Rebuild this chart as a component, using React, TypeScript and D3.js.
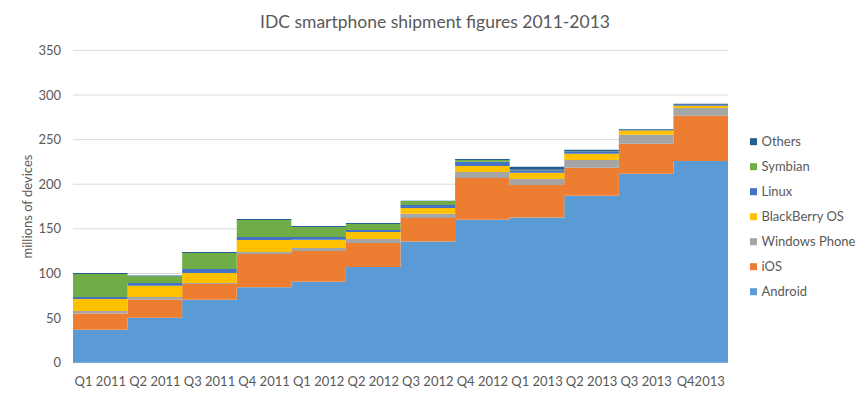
import * as d3 from "d3";

const quarters = [
  "Q1 2011", "Q2 2011", "Q3 2011", "Q4 2011",
  "Q1 2012", "Q2 2012", "Q3 2012", "Q4 2012",
  "Q1 2013", "Q2 2013", "Q3 2013", "Q42013",
];

// millions of devices per quarter, bottom of the stack first
const android = [37.0, 50.4, 70.6, 84.5, 90.8, 107.3, 135.7, 160.3, 162.6, 187.2, 211.9, 226.1];
const ios = [18.0, 20.2, 17.6, 37.4, 34.4, 26.9, 26.5, 46.8, 36.6, 31.4, 33.5, 50.6];
const windowsPhone = [3.0, 3.1, 1.1, 2.2, 3.4, 4.5, 4.8, 6.7, 6.8, 8.6, 10.2, 8.8];
const blackberry = [13.4, 12.6, 11.2, 13.4, 9.3, 7.8, 6.4, 6.7, 7.0, 7.1, 4.5, 2.6];
const linux = [2.3, 3.0, 4.5, 3.4, 3.0, 2.3, 3.4, 4.8, 2.6, 2.0, 0.3, 1.0];
const symbian = [25.7, 7.5, 18.0, 19.1, 11.2, 6.7, 4.5, 1.9, 0.7, 0.5, 0, 0];
const others = [1.1, 1.0, 1.1, 1.1, 1.1, 1.1, 0.3, 1.1, 3.3, 1.9, 1.1, 1.0];

const seriesNames = ["Android", "iOS", "Windows Phone", "BlackBerry OS", "Linux", "Symbian", "Others"];
const seriesValues = [android, ios, windowsPhone, blackberry, linux, symbian, others];
const seriesColors = ["#5B9BD5", "#ED7D31", "#A5A5A5", "#FFC000", "#4472C4", "#70AD47", "#255E91"];

const yTicks = [0, 50, 100, 150, 200, 250, 300, 350];

const width = 867;
const height = 399;
const margin = { top: 50.4, right: 139, bottom: 36.3, left: 73 };
const font = "Lato, 'Open Sans', sans-serif";
const textColor = "#595959";

export default function App() {
  const rows = quarters.map((q, i) => {
    const row: Record<string, any> = { quarter: q };
    seriesNames.forEach((name, s) => (row[name] = seriesValues[s][i]));
    return row;
  });

  const stacked = d3.stack<any>().keys(seriesNames)(rows);

  const x = d3
    .scaleBand<string>()
    .domain(quarters)
    .range([margin.left, width - margin.right])
    .padding(0);

  const y = d3
    .scaleLinear()
    .domain([0, 350])
    .range([height - margin.bottom, margin.top]);

  // each quarter is a flat step across its band
  const area = d3
    .area<any>()
    .x((p) => p.x)
    .y0((p) => y(p.y0))
    .y1((p) => y(p.y1));

  const stepPoints = (layer: any) =>
    layer.flatMap((d: any) => {
      const x0 = x(d.data.quarter)!;
      const x1 = x0 + x.bandwidth();
      return [
        { x: x0, y0: d[0], y1: d[1] },
        { x: x1, y0: d[0], y1: d[1] },
      ];
    });

  const legendX = 750;
  const legendTop = 141.7;
  const legendStep = 25;

  return (
    <svg
      width={width}
      height={height}
      style={{ position: "absolute", left: 0, top: 0, background: "#fff" }}
      fontFamily={font}
    >
      <text
        x={435}
        y={28}
        textAnchor="middle"
        fontSize={17.5}
        fill={textColor}
      >
        IDC smartphone shipment figures 2011-2013
      </text>

      {/* gridlines */}
      {yTicks.map((t) => (
        <g key={t}>
          <line
            x1={margin.left}
            x2={width - margin.right}
            y1={y(t)}
            y2={y(t)}
            stroke="#D9D9D9"
            strokeWidth={1}
          />
          <text
            x={61}
            y={y(t)}
            dy="0.35em"
            textAnchor="end"
            fontSize={13}
            fill={textColor}
          >
            {t}
          </text>
        </g>
      ))}

      {stacked.map((layer, i) => (
        <path key={layer.key} d={area(stepPoints(layer))!} fill={seriesColors[i]} />
      ))}

      {quarters.map((q) => (
        <text
          key={q}
          x={x(q)! + x.bandwidth() / 2}
          y={386}
          textAnchor="middle"
          fontSize={13}
          fill={textColor}
        >
          {q}
        </text>
      ))}

      <text
        transform={`translate(32,${(margin.top + height - margin.bottom) / 2 + 0}) rotate(-90)`}
        textAnchor="middle"
        fontSize={13}
        fill={textColor}
      >
        millions of devices
      </text>

      {seriesNames
        .slice()
        .reverse()
        .map((name, i) => {
          const color = seriesColors[seriesNames.length - 1 - i];
          const cy = legendTop + i * legendStep;
          return (
            <g key={name}>
              <rect x={legendX} y={cy - 3.5} width={7} height={7} fill={color} />
              <text x={legendX + 11.5} y={cy} dy="0.35em" fontSize={13} fill={textColor}>
                {name}
              </text>
            </g>
          );
        })}
    </svg>
  );
}
